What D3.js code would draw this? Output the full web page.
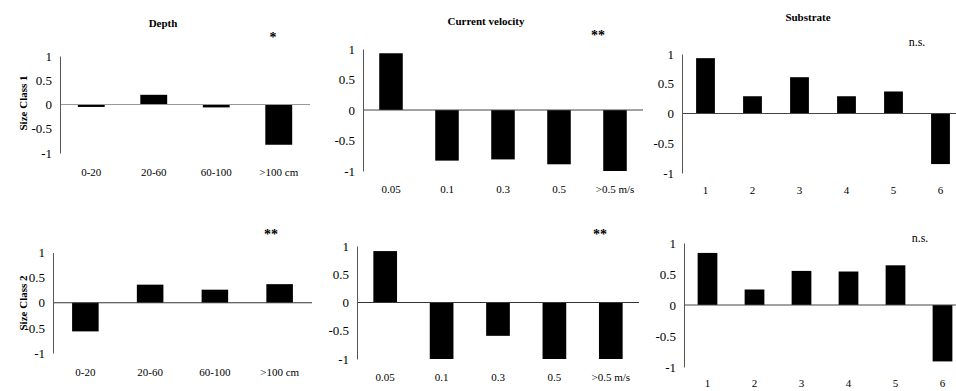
<!DOCTYPE html>
<html><head><meta charset="utf-8">
<script src="https://cdn.jsdelivr.net/npm/d3@7"></script>
<style>
html,body{margin:0;padding:0;background:#fff;}
svg{display:block;font-family:"Liberation Serif","Times New Roman",serif;}
svg text{font-family:"Liberation Serif","Times New Roman",serif;}
</style></head>
<body>
<svg id="c" width="956" height="391"></svg>
<script>
// ---- data ----
const depthCats = ["0-20", "20-60", "60-100", ">100 cm"];
const velCats = ["0.05", "0.1", "0.3", "0.5", ">0.5 m/s"];
const subCats = ["1", "2", "3", "4", "5", "6"];
const depthSC1 = [-0.05, 0.2, -0.06, -0.83];
const velSC1 = [0.93, -0.83, -0.81, -0.89, -1.0];
const subSC1 = [0.93, 0.29, 0.61, 0.29, 0.37, -0.85];
const depthSC2 = [-0.57, 0.36, 0.26, 0.37];
const velSC2 = [0.91, -1.0, -0.59, -1.0, -1.0];
const subSC2 = [0.84, 0.25, 0.55, 0.54, 0.64, -0.91];
const yTicks = [1, 0.5, 0, -0.5, -1];
const titles = ["Depth", "Current velocity", "Substrate"];
const rowLabels = ["Size Class 1", "Size Class 2"];
const sigRow1 = ["*", "**", "n.s."];
const sigRow2 = ["**", "**", "n.s."];

// ---- layout ----
const panels = [
  {cats: depthCats, vals: depthSC1, x0: 60, x1: 310, yT: 56, yB: 153, lab: 172, pad: 0.57, title: titles[0], tx: 163, ty: 23, sig: sigRow1[0], sx: 273, sy: 37, zc: "#999", row: rowLabels[0], ry: 103},
  {cats: velCats, vals: velSC1, x0: 363, x1: 643, yT: 49, yB: 171, lab: 189, pad: 0.58, title: titles[1], tx: 486, ty: 21, sig: sigRow1[1], sx: 598, sy: 35, zc: "#444"},
  {cats: subCats, vals: subSC1, x0: 682, x1: 964, yT: 54, yB: 173, lab: 190, pad: 0.6, title: titles[2], tx: 808, ty: 17, sig: sigRow1[2], sx: 917, sy: 42, zc: "#444"},
  {cats: depthCats, vals: depthSC2, x0: 53, x1: 312, yT: 252.5, yB: 353, lab: 372, pad: 0.59, sig: sigRow2[0], sx: 271, sy: 234, zc: "#333", row: rowLabels[1], ry: 303},
  {cats: velCats, vals: velSC2, x0: 357, x1: 639, yT: 246, yB: 359, lab: 377, pad: 0.58, sig: sigRow2[1], sx: 600, sy: 234, zc: "#333"},
  {cats: subCats, vals: subSC2, x0: 684, x1: 966, yT: 243, yB: 367, lab: 383, pad: 0.58, sig: sigRow2[2], sx: 920, sy: 238, zc: "#444"}
];

const svg = d3.select("#c");
const FF = "Liberation Serif";

panels.forEach(p => {
  const g = svg.append("g");
  const x = d3.scaleBand().domain(p.cats).range([p.x0, p.x1]).paddingInner(p.pad).paddingOuter(p.pad / 2);
  const y = d3.scaleLinear().domain([-1, 1]).range([p.yB, p.yT]);

  // bars
  g.selectAll("rect").data(p.vals).join("rect")
    .attr("x", (d, i) => x(p.cats[i]))
    .attr("width", x.bandwidth())
    .attr("y", d => y(Math.max(0, d)))
    .attr("height", d => Math.abs(y(d) - y(0)))
    .attr("fill", "#000");

  // zero line
  g.append("line")
    .attr("x1", p.x0).attr("x2", p.x1)
    .attr("y1", y(0)).attr("y2", y(0))
    .attr("stroke", p.zc).attr("stroke-width", 1);

  // y axis
  const ax = g.append("g").attr("transform", `translate(${p.x0},0)`)
    .call(d3.axisLeft(y).tickValues(yTicks).tickSize(0).tickPadding(8).tickFormat(d => String(d)));
  ax.attr("font-family", FF);
  ax.select(".domain").attr("stroke", "#555").attr("stroke-width", 1);
  ax.selectAll("text").attr("font-size", 13).attr("font-family", FF).attr("fill", "#000");

  // category labels
  g.selectAll("text.cat").data(p.cats).join("text")
    .attr("class", "cat")
    .attr("x", d => x(d) + x.bandwidth() / 2)
    .attr("y", p.lab)
    .attr("dominant-baseline", "central")
    .attr("text-anchor", "middle")
    .attr("font-family", FF)
    .attr("font-size", 11)
    .text(d => d);

  if (p.title) {
    g.append("text").attr("x", p.tx).attr("y", p.ty)
      .attr("text-anchor", "middle").attr("dominant-baseline", "central")
      .attr("font-family", FF)
      .attr("font-size", 11).attr("font-weight", "bold").text(p.title);
  }
  g.append("text").attr("x", p.sx).attr("y", p.sy)
    .attr("text-anchor", "middle").attr("dominant-baseline", "central")
    .attr("font-family", FF).attr("fill", "#000")
    .attr("font-size", p.sig === "n.s." ? 12 : 14).attr("font-weight", p.sig === "n.s." ? "normal" : "bold").text(p.sig);
  if (p.row) {
    g.append("text").attr("transform", `translate(23,${p.ry}) rotate(-90)`)
      .attr("text-anchor", "middle").attr("dominant-baseline", "central")
      .attr("font-family", FF)
      .attr("font-size", 11).attr("font-weight", "bold").text(p.row);
  }
});
</script>
</body></html>
